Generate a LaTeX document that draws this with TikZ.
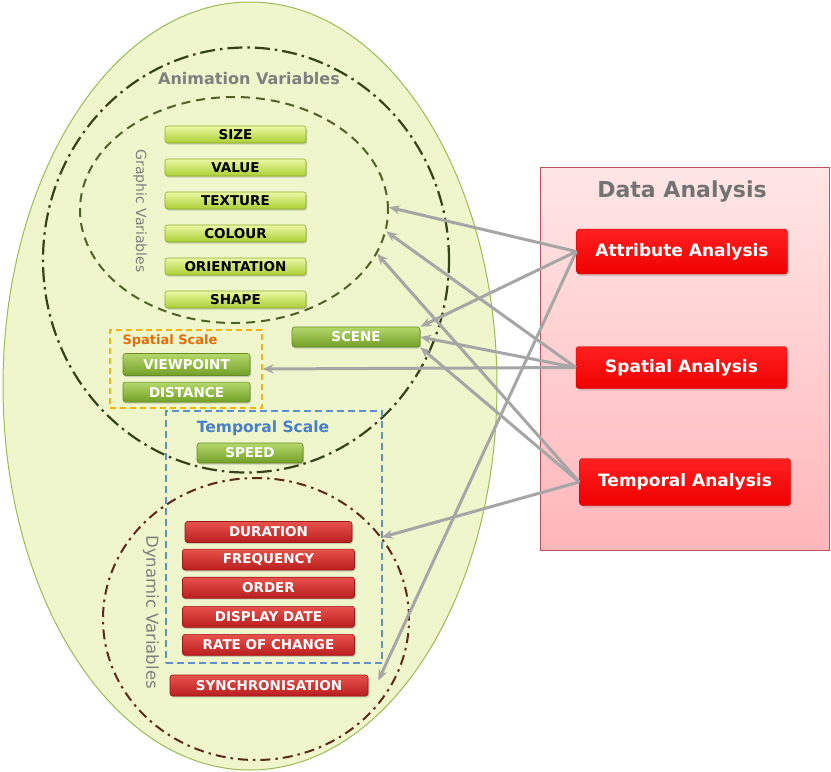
\documentclass[tikz,border=0pt]{standalone}
\usepackage{fontspec}
\setmainfont{DejaVu Sans}
\usetikzlibrary{arrows.meta,positioning,shapes.geometric,shadows}
\definecolor{eggfill}{HTML}{EFF6CB}
\definecolor{eggdraw}{HTML}{9BBB59}
\definecolor{animdraw}{HTML}{34431A}
\definecolor{graphdraw}{HTML}{4F6228}
\definecolor{dyndraw}{HTML}{5C2A1A}
\definecolor{spatialline}{HTML}{F5B400}
\definecolor{spatialtext}{HTML}{E46C0A}
\definecolor{temporalline}{HTML}{5B8FD0}
\definecolor{temporaltext}{HTML}{4A7EC8}
\definecolor{lblgrey}{HTML}{808080}
\definecolor{linkgrey}{HTML}{A6A6A6}
\definecolor{limetop}{HTML}{ECF8A4}
\definecolor{limebot}{HTML}{AACF34}
\definecolor{limedraw}{HTML}{8EAE2E}
\definecolor{greentop}{HTML}{B4D86C}
\definecolor{greenbot}{HTML}{72A026}
\definecolor{greendraw}{HTML}{668C22}
\definecolor{redtop}{HTML}{E8524C}
\definecolor{redbot}{HTML}{B81E1E}
\definecolor{reddraw}{HTML}{9E1616}
\definecolor{anatop}{HTML}{FF2020}
\definecolor{anabot}{HTML}{EE0000}
\definecolor{anadraw}{HTML}{C00000}
\definecolor{datatop}{HTML}{FFE6E6}
\definecolor{databot}{HTML}{FFB6BA}
\definecolor{datadraw}{HTML}{C0505A}

\begin{document}
\begin{tikzpicture}[x=1pt, y=-1pt,
    >={Stealth[length=11pt,width=9pt]},
    ring/.style={ellipse, inner sep=0pt},
    bar/.style={rounded corners=2.5pt, inner sep=0pt, line width=0.6pt,
                font=\bfseries\fontsize{13.5}{13.5}\selectfont,
                drop shadow={shadow xshift=1pt, shadow yshift=-1.5pt, opacity=0.35}},
    graphbar/.style={bar, draw=limedraw, top color=limetop, bottom color=limebot,
                     text=black, minimum width=141pt, minimum height=17pt},
    scalebar/.style={bar, draw=greendraw, top color=greentop, bottom color=greenbot,
                     text=white, minimum height=20pt},
    dynbar/.style={bar, draw=reddraw, top color=redtop, bottom color=redbot,
                   text=white, minimum width=172pt, minimum height=21pt},
    analysis/.style={rounded corners=3pt, draw=anadraw, top color=anatop, bottom color=anabot,
                     text=white, minimum width=211pt, minimum height=45pt,
                     font=\bfseries\fontsize{17}{17}\selectfont,
                     drop shadow={shadow xshift=1.5pt, shadow yshift=-2pt, opacity=0.3}},
    scalebox/.style={draw, line width=1.3pt, inner sep=0pt},
    lbl/.style={inner sep=0pt},
    link/.style={->, draw=linkgrey, line width=3pt},
  ]
  \useasboundingbox (0,0) rectangle (831,772);

  % --- the egg and its rings ---------------------------------------------------
  \node[ring, fill=eggfill, draw=eggdraw, line width=1pt,
        minimum width=494pt, minimum height=768pt] (egg) at (250,386) {};
  \node[ring, draw=animdraw, line width=2.2pt, dash pattern=on 15pt off 5pt on 2.5pt off 5pt,
        minimum width=406pt, minimum height=425pt] (anim) at (246,260) {};
  \node[ring, draw=graphdraw, line width=2pt, dash pattern=on 9pt off 6pt,
        minimum width=308pt, minimum height=226pt] (graphic) at (234,210) {};
  \node[ring, draw=dyndraw, line width=2pt, dash pattern=on 10pt off 5pt on 2.5pt off 5pt,
        minimum width=306pt, minimum height=282pt] (dynamic) at (256,619) {};

  \node[lbl, text=lblgrey, font=\bfseries\fontsize{16}{16}\selectfont] (animlbl) at (249,79) {Animation Variables};
  \node[lbl, text=lblgrey, rotate=-90, font=\fontsize{14}{14}\selectfont] (graphlbl) at (140,211) {Graphic Variables};
  \node[lbl, text=lblgrey, rotate=-90, font=\fontsize{16.5}{16.5}\selectfont] (dynlbl) at (151,612) {Dynamic Variables};

  % --- graphic variables ---------------------------------------------------------
  \node[graphbar] (size) at (235.5,134.5) {SIZE};
  \node[graphbar, below=15.4pt of size] (value) {VALUE};
  \node[graphbar, below=15.4pt of value] (texture) {TEXTURE};
  \node[graphbar, below=15.4pt of texture] (colour) {COLOUR};
  \node[graphbar, below=15.4pt of colour] (orient) {ORIENTATION};
  \node[graphbar, below=15.4pt of orient] (shape) {SHAPE};

  % --- spatial and temporal scale ------------------------------------------------
  \node[scalebox, draw=spatialline, dash pattern=on 6pt off 4pt,
        minimum width=152pt, minimum height=78pt] (spatialbox) at (186,369) {};
  \node[lbl, text=spatialtext, font=\bfseries\fontsize{13}{13}\selectfont] (spatiallbl) at (170,341) {Spatial Scale};
  \node[scalebar, minimum width=127pt, minimum height=22pt] (viewpoint) at (186.5,364.5) {VIEWPOINT};
  \node[scalebar, minimum width=127pt, below=6pt of viewpoint] (distance) {DISTANCE};

  \node[scalebar, minimum width=128pt] (scene) at (356,337) {SCENE};

  \node[scalebox, draw=temporalline, line width=1.1pt, dash pattern=on 7pt off 4pt,
        minimum width=216pt, minimum height=252pt] (temporalbox) at (274,537) {};
  \node[lbl, text=temporaltext, font=\bfseries\fontsize{15.5}{15.5}\selectfont] (temporallbl) at (263,428) {Temporal Scale};
  \node[scalebar, minimum width=106pt] (speed) at (250,453) {SPEED};

  % --- dynamic variables ---------------------------------------------------------
  \node[dynbar, minimum width=167pt] (duration) at (268.5,532) {DURATION};
  \node[dynbar, below=6pt of duration] (frequency) {FREQUENCY};
  \node[dynbar, below=6.5pt of frequency] (order) {ORDER};
  \node[dynbar, below=7.5pt of order] (dispdate) {DISPLAY DATE};
  \node[dynbar, below=6.5pt of dispdate] (rate) {RATE OF CHANGE};
  \node[dynbar, minimum width=198pt] (sync) at (269,685.5) {SYNCHRONISATION};
  \coordinate[above right=5pt and 10pt of sync.east] (syncmark);

  % --- data analysis -------------------------------------------------------------
  \node[draw=datadraw, line width=0.8pt, top color=datatop, bottom color=databot,
        minimum width=289pt, minimum height=383pt] (databox) at (684.5,358.5) {};
  \node[lbl, text=lblgrey!90!black, font=\bfseries\fontsize{22}{22}\selectfont] (datalbl) at (682,192) {Data Analysis};
  \node[analysis] (attr) at (682,251.5) {Attribute Analysis};
  \node[analysis, minimum height=42pt] (spatial) at (681.5,367.5) {Spatial Analysis};
  \node[analysis, minimum height=47pt] (temporal) at (685,482) {Temporal Analysis};

  % --- links ---------------------------------------------------------------------
  \draw[link] (attr.west) -- (graphic.1);
  \draw[link] (attr.west) -- (scene.north east);
  \draw[link] (attr.west) -- (syncmark);
  \draw[link] (spatial.west) -- (graphic.-8);
  \draw[link] (spatial.west) -- (scene.east);
  \draw[link] (spatial.west) -- (spatialbox.east);
  \draw[link] (temporal.west) -- (graphic.-17);
  \draw[link] (temporal.west) -- (scene.south east);
  \draw[link] (temporal.west) -- (dynamic.33);
\end{tikzpicture}
\end{document}
